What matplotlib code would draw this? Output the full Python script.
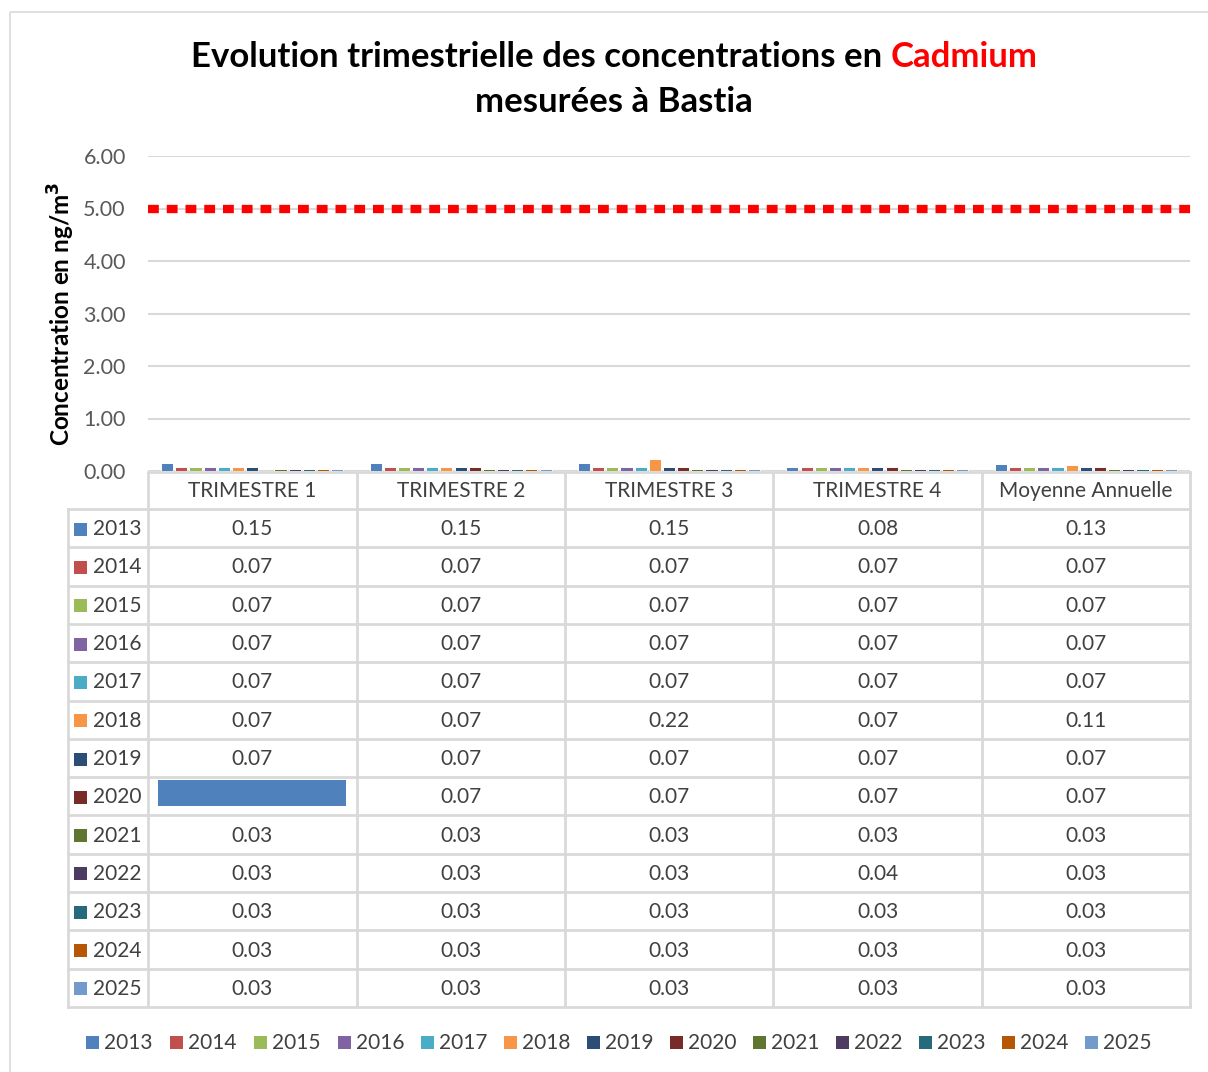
import matplotlib
matplotlib.use("Agg")
import matplotlib.pyplot as plt
import numpy as np
from matplotlib.patches import Rectangle

plt.rcParams['font.family'] = ['Lato', 'DejaVu Sans']

categories = ["TRIMESTRE 1", "TRIMESTRE 2", "TRIMESTRE 3", "TRIMESTRE 4", "Moyenne Annuelle"]
years = ["2013", "2014", "2015", "2016", "2017", "2018", "2019", "2020",
         "2021", "2022", "2023", "2024", "2025"]
values = {
    "2013": [0.15, 0.15, 0.15, 0.08, 0.13],
    "2014": [0.07, 0.07, 0.07, 0.07, 0.07],
    "2015": [0.07, 0.07, 0.07, 0.07, 0.07],
    "2016": [0.07, 0.07, 0.07, 0.07, 0.07],
    "2017": [0.07, 0.07, 0.07, 0.07, 0.07],
    "2018": [0.07, 0.07, 0.22, 0.07, 0.11],
    "2019": [0.07, 0.07, 0.07, 0.07, 0.07],
    "2020": [None, 0.07, 0.07, 0.07, 0.07],
    "2021": [0.03, 0.03, 0.03, 0.03, 0.03],
    "2022": [0.03, 0.03, 0.03, 0.04, 0.03],
    "2023": [0.03, 0.03, 0.03, 0.03, 0.03],
    "2024": [0.03, 0.03, 0.03, 0.03, 0.03],
    "2025": [0.03, 0.03, 0.03, 0.03, 0.03],
}
colors = ["#4F81BD", "#C0504D", "#9BBB59", "#8064A2", "#4BACC6", "#F79646", "#2C4D75",
          "#772C2A", "#5F7530", "#4D3B62", "#276A7C", "#B65708", "#729ACA"]
limit_value = 5.0
yticks = [0, 1, 2, 3, 4, 5, 6]

W, H = 1208, 1072
fig = plt.figure(figsize=(W / 100, H / 100), dpi=100)

def fx(px):
    return px / W

def fy(py):
    return 1 - py / H

TXT = "#404040"
FS = 15

# Overlay for table / decorations (pixel coords)
ov = fig.add_axes([0, 0, 1, 1], zorder=0)
ov.set_xlim(0, W)
ov.set_ylim(H, 0)
ov.axis('off')

# outer border
ov.add_patch(Rectangle((10, 12), W + 10, H + 10, fill=False, edgecolor="#d9d9d9", lw=1.2))

# Main axes
x0, x1, ytop, ybot = 148, 1190, 156, 471
ax = fig.add_axes([fx(x0), fy(ybot), fx(x1) - fx(x0), (ybot - ytop) / H], zorder=2)
ax.patch.set_alpha(0)
ax.set_xlim(0, len(categories))
ax.set_ylim(0, 6)
ax.set_yticks(yticks)
ax.set_yticklabels([f"{v:.2f}" for v in yticks], fontsize=15.5, color="#595959")
ax.tick_params(axis='y', length=0, pad=16)
ax.set_xticks([])
for s in ax.spines.values():
    s.set_visible(False)
ax.grid(axis='y', color="#d9d9d9", lw=1.5)
ax.set_axisbelow(True)

n = len(years)
slot = 0.068
bw = 0.058
xc = np.arange(len(categories)) + 0.5
for i, y in enumerate(years):
    vals = np.array([np.nan if v is None else v for v in values[y]], dtype=float)
    off = (i - (n - 1) / 2) * slot
    ax.bar(xc + off, vals, width=bw, color=colors[i], edgecolor="white", lw=0.7, zorder=3)

ax.axhline(limit_value, xmin=0, xmax=1.005, color="#FF0000", lw=6, ls=(0, (1.3, 0.95)), zorder=4, clip_on=False)

ax.set_ylabel("Concentration en ng/m$^\\mathbf{3}$", fontsize=17.5, fontweight='bold')
ax.yaxis.set_label_coords(-0.068, 0.5)

# Title
title1a = "Evolution trimestrielle des concentrations en "
title1b = "Cadmium"
t1 = fig.text(0, 0, title1a, fontsize=25, fontweight='bold', va='center', ha='left')
t2 = fig.text(0, 0, title1b, fontsize=25, fontweight='bold', va='center', ha='left', color="#FF0000")
fig.canvas.draw()
r = fig.canvas.get_renderer()
w1 = t1.get_window_extent(r).width
w2 = t2.get_window_extent(r).width
start = 614 - (w1 + w2) / 2
t1.set_position((fx(start), fy(57)))
t2.set_position((fx(start + w1), fy(57)))
fig.text(fx(614), fy(102), "mesurées à Bastia", fontsize=25, fontweight='bold', ha='center', va='center')

# Table
grid_c = "#d9d9d9"
col_x = [148, 357, 565, 773, 982, 1190]
head_top, head_bot = 472, 509
row_h = (1007 - head_bot) / n
for cx in col_x:
    ov.plot([cx, cx], [head_top, 1007], color=grid_c, lw=2, solid_capstyle='butt')
ov.plot([68, 68], [head_bot, 1007], color=grid_c, lw=2)
ov.plot([148, 1190], [head_top, head_top], color=grid_c, lw=2)
for k in range(n + 1):
    yy = head_bot + k * row_h
    ov.plot([68, 1190], [yy, yy], color=grid_c, lw=2)

for j, c in enumerate(categories):
    ov.text((col_x[j] + col_x[j + 1]) / 2, 491, c, ha='center', va='center', fontsize=FS, color=TXT)

for i, y in enumerate(years):
    yy = head_bot + (i + 0.5) * row_h + 1
    ov.add_patch(Rectangle((74, yy - 6.5), 13, 13, color=colors[i], lw=0))
    ov.text(93, yy, y, ha='left', va='center', fontsize=FS, color=TXT)
    for j, v in enumerate(values[y]):
        if v is not None:
            ov.text((col_x[j] + col_x[j + 1]) / 2, yy, f"{v:.2f}", ha='center', va='center',
                    fontsize=FS, color=TXT)

# blue overlay box hiding the 2020 T1 cell
ov.add_patch(Rectangle((158, 780), 188, 26, color="#4F81BD", lw=0, zorder=5))

# Legend at bottom
leg_x = [86, 170, 254, 338, 421, 504, 587, 670, 753, 836, 919, 1002, 1085]
for i, y in enumerate(years):
    ov.add_patch(Rectangle((leg_x[i], 1036), 13, 13, color=colors[i], lw=0))
    ov.text(leg_x[i] + 18, 1043, y, ha='left', va='center', fontsize=FS, color=TXT)

fig.savefig("out.png", dpi=100)
